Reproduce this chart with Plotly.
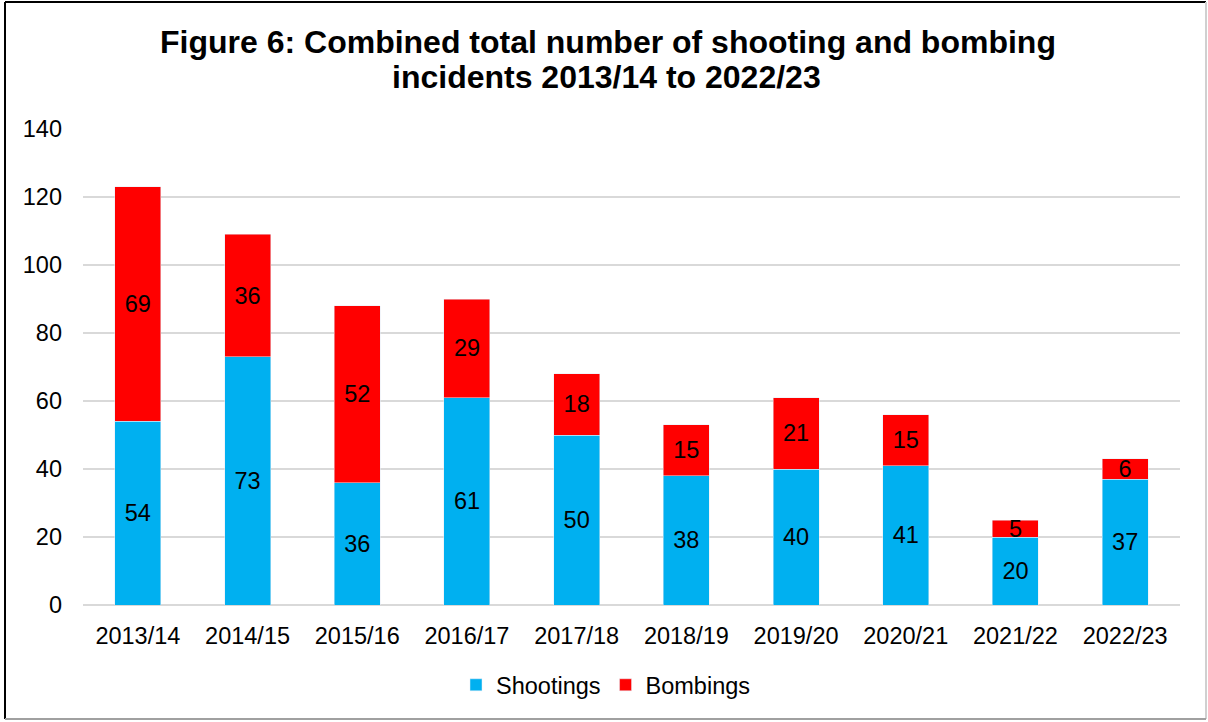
import plotly.graph_objects as go

years = ["2013/14", "2014/15", "2015/16", "2016/17", "2017/18",
         "2018/19", "2019/20", "2020/21", "2021/22", "2022/23"]
shootings = [54, 73, 36, 61, 50, 38, 40, 41, 20, 37]
bombings = [69, 36, 52, 29, 18, 15, 21, 15, 5, 6]

title_line1 = "Figure 6: Combined total number of shooting and bombing"
title_line2 = "incidents 2013/14 to 2022/23"

FONT = "Liberation Sans, Arial, sans-serif"
W, H = 1208, 722
L, R, T, B = 83, 28, 129, 117
pw, ph = W - L - R, H - T - B


def px(x):
    return (x - L) / pw


def py(y):
    return (H - B - y) / ph


fig = go.Figure()
fig.add_trace(go.Bar(
    x=years, y=shootings, name="Shootings", marker_color="#00B0F0",
    text=shootings, textposition="inside", insidetextanchor="middle",
    textangle=0, cliponaxis=False,
    textfont=dict(color="black", size=23.5, family=FONT),
))
fig.add_trace(go.Bar(
    x=years, y=bombings, name="Bombings", marker_color="#FF0000",
    text=bombings, textposition="inside", insidetextanchor="middle",
    textangle=0, cliponaxis=False,
    textfont=dict(color="black", size=23.5, family=FONT),
))

fig.update_layout(
    width=W, height=H,
    barmode="stack", bargap=0.58,
    margin=dict(l=L, r=R, t=T, b=B, autoexpand=False),
    paper_bgcolor="white", plot_bgcolor="white",
    font=dict(family=FONT, size=23.5, color="black"),
    uniformtext=dict(minsize=23.5, mode="show"),
    showlegend=True,
    legend=dict(orientation="h", x=px(606), xanchor="center",
                y=py(685), yanchor="middle",
                font=dict(size=23.5, family=FONT, color="black"),
                traceorder="normal", itemwidth=30),
    xaxis=dict(showgrid=False, showline=False, ticks="",
               automargin=False, ticklabelstandoff=14,
               tickfont=dict(size=23.5)),
    yaxis=dict(range=[0, 140], dtick=20, showgrid=True,
               gridcolor="#D9D9D9", gridwidth=1.5,
               zeroline=True, zerolinecolor="#D9D9D9", zerolinewidth=1.5,
               showline=False, ticks="", automargin=False,
               ticklabelstandoff=20, tickfont=dict(size=23.5)),
)

fig.add_annotation(text="<b>%s</b>" % title_line1, xref="paper", yref="paper",
                   x=px(608), y=py(42), xanchor="center", yanchor="middle",
                   showarrow=False, font=dict(size=32, family=FONT, color="black"))
fig.add_annotation(text="<b>%s</b>" % title_line2, xref="paper", yref="paper",
                   x=px(606), y=py(77), xanchor="center", yanchor="middle",
                   showarrow=False, font=dict(size=32, family=FONT, color="black"))

# outer frame
fig.add_shape(type="line", xref="paper", yref="paper",
              x0=px(5), x1=px(5), y0=py(2), y1=py(719),
              line=dict(color="black", width=2))
fig.add_shape(type="line", xref="paper", yref="paper",
              x0=px(5), x1=px(1206), y0=py(2), y1=py(2),
              line=dict(color="black", width=2))
fig.add_shape(type="line", xref="paper", yref="paper",
              x0=px(1206), x1=px(1206), y0=py(2), y1=py(719),
              line=dict(color="#D0D0D0", width=2))
fig.add_shape(type="line", xref="paper", yref="paper",
              x0=px(5), x1=px(1206), y0=py(719), y1=py(719),
              line=dict(color="#A0A0A0", width=2))

fig.write_html("out.html",
               config={"displayModeBar": False},
               post_script="document.body.style.margin='0';"
                           "document.body.style.overflow='hidden';")
